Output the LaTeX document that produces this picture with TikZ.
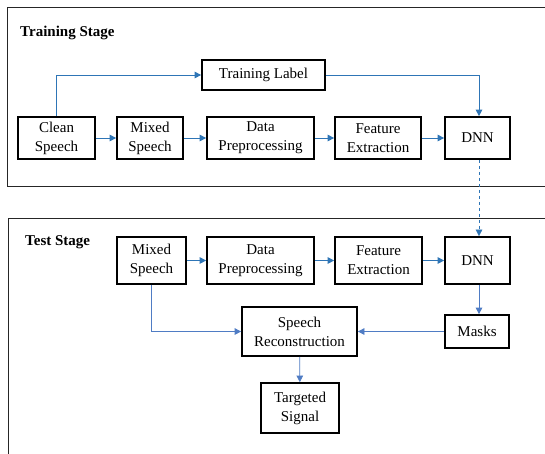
\documentclass[tikz,border=0pt]{standalone}
\usepackage{fontspec}
\setmainfont{Liberation Serif}
\usetikzlibrary{arrows.meta}
\definecolor{flowblue}{HTML}{2E75B6}
\definecolor{linkblue}{HTML}{4F7CC4}
\begin{document}
\begin{tikzpicture}[x=1pt,y=-1pt,
  stagebox/.style={draw=black!85,line width=1pt},
  block/.style={draw=black,line width=1.7pt,align=center,inner sep=0pt,
    font=\fontsize{15}{19}\selectfont},
  flow/.style={draw=flowblue,line width=0.8pt,-{Triangle[length=6.5pt,width=6.5pt]}},
  link/.style={draw=linkblue,line width=0.7pt,-{Triangle[length=6.5pt,width=6.5pt]}},
  stagetitle/.style={font=\fontsize{15}{18}\selectfont\bfseries,anchor=west,inner sep=0pt}]
\useasboundingbox (0,0) rectangle (545,453);
\fill[white] (0,0) rectangle (545,453);

% stage frames
\draw[stagebox] (550,7) -- (7,7) -- (7,186) -- (550,186);
\draw[stagebox] (550,218) -- (8,218) -- (8,460);
\node[stagetitle] (ttitle) at (20,33) {Training Stage};
\node[stagetitle] (stitle) at (25,242) {Test Stage};

% training stage blocks
\node[block,minimum width=123,minimum height=30] (label) at (263.5,75) {Training Label};
\node[block,minimum width=77,minimum height=42] (clean) at (56.5,138) {Clean\\Speech};
\node[block,minimum width=66,minimum height=42] (mix1) at (150,138) {Mixed\\Speech};
\node[block,minimum width=107,minimum height=42] (pre1) at (260.5,138) {Data\\Preprocessing};
\node[block,minimum width=86,minimum height=42] (feat1) at (378,138) {Feature\\Extraction};
\node[block,minimum width=65,minimum height=42] (dnn1) at (477.5,138) {DNN};

% test stage blocks
\node[block,minimum width=69,minimum height=47] (mix2) at (151.5,260.5) {Mixed\\Speech};
\node[block,minimum width=107,minimum height=47] (pre2) at (260.5,260.5) {Data\\Preprocessing};
\node[block,minimum width=87,minimum height=47] (feat2) at (378.5,260.5) {Feature\\Extraction};
\node[block,minimum width=65,minimum height=47] (dnn2) at (477.5,260.5) {DNN};
\node[block,minimum width=115,minimum height=49] (recon) at (299.5,331.5) {Speech\\Reconstruction};
\node[block,minimum width=64,minimum height=33] (masks) at (477,331.5) {Masks};
\node[block,minimum width=78,minimum height=50] (target) at (300,408) {Targeted\\Signal};

% training flow
\draw[flow] (clean) -- (mix1);
\draw[flow] (mix1) -- (pre1);
\draw[flow] (pre1) -- (feat1);
\draw[flow] (feat1) -- (dnn1);
\draw[flow] (clean.north) |- (label.west);
\draw[flow] (label.east) -| ([xshift=1.5pt]dnn1.north);

% trained model handed to the test stage
\draw[flow,dashed,line width=0.5pt] ([xshift=1.5pt]dnn1.south) -- ([xshift=1.5pt]dnn2.north);

% test flow
\draw[flow] (mix2) -- (pre2);
\draw[flow] (pre2) -- (feat2);
\draw[flow] (feat2) -- (dnn2);
\draw[link] ([xshift=1.5pt]dnn2.south) -- ([xshift=2pt]masks.north);
\draw[link] (masks) -- (recon);
\draw[link] (mix2.south) |- (recon.west);
\draw[link] (recon) -- (target);
\end{tikzpicture}
\end{document}
